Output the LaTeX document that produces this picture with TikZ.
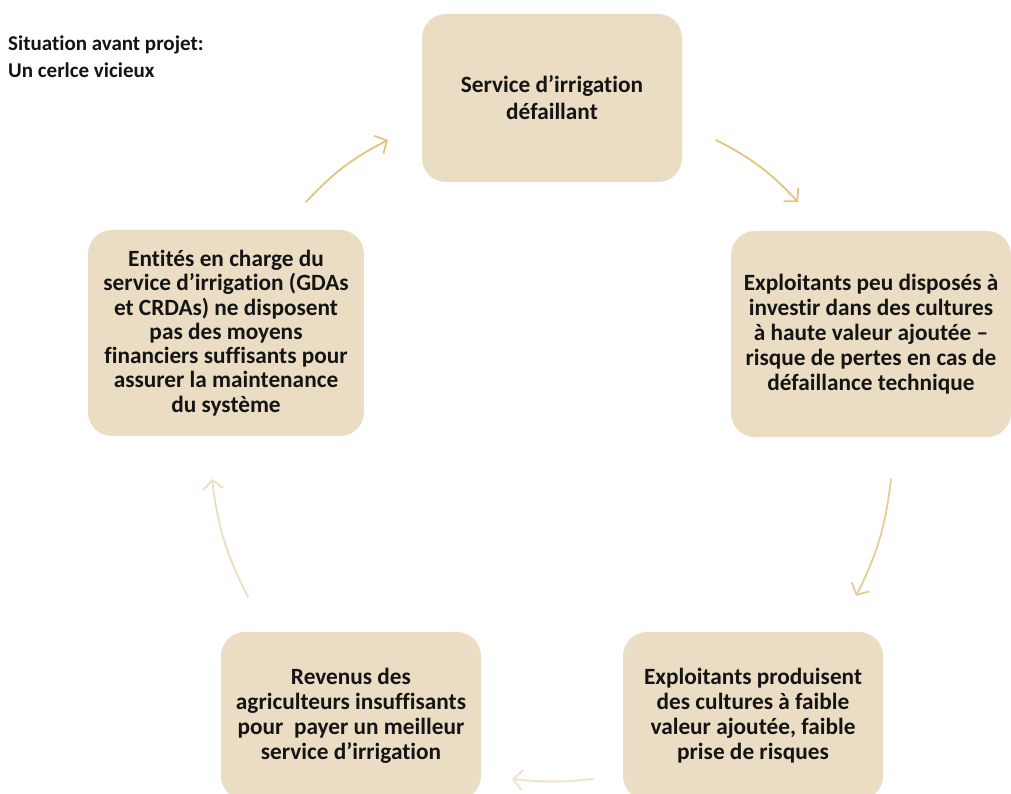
\documentclass[tikz,border=0pt]{standalone}
\usepackage{fontspec}
\setmainfont{Carlito}[Ligatures=NoCommon]
\usetikzlibrary{arrows.meta}
\definecolor{boxfill}{RGB}{234,221,196}
\definecolor{inkdark}{RGB}{20,20,20}
\definecolor{arrA}{RGB}{226,196,128}
\definecolor{arrB}{RGB}{230,205,150}
\definecolor{arrC}{RGB}{238,222,190}
\definecolor{arrD}{RGB}{240,226,198}
\tikzset{
  stepbox/.style={draw=none, fill=boxfill, rounded corners=24pt, align=center,
    text=inkdark, font=\fontsize{23.3}{25}\selectfont\bfseries, inner sep=0pt},
  cyclearrow/.style={line width=1.8pt, line cap=round,
    -{Straight Barb[length=9pt,width=20pt,line width=1.8pt]}},
}
\begin{document}
\begin{tikzpicture}[x=1pt,y=-1pt]
\useasboundingbox (0,0) rectangle (1011,794);
\clip (0,0) rectangle (1011,794);
\fill[white] (0,0) rectangle (1011,794);

% title
\node[anchor=north west, align=left, font=\fontsize{21}{27}\selectfont\bfseries, text=inkdark, inner sep=0pt]
  (title) at (8,36) {Situation avant projet:\\Un cerlce vicieux};

% the five stages of the cycle
\node[stepbox, minimum width=260pt, minimum height=168pt,
      font=\fontsize{23.3}{27}\selectfont\bfseries] (s1) at (552,98)
  {Service d’irrigation\\défaillant};
\node[stepbox, minimum width=280pt, minimum height=206pt] (s2) at (871,334)
  {Exploitants peu disposés à\\investir dans des cultures\\à haute valeur ajoutée –\\risque de pertes en cas de\\défaillance technique};
\node[stepbox, minimum width=260pt, minimum height=168pt] (s3) at (753,716)
  {Exploitants produisent\\des cultures à faible\\valeur ajoutée, faible\\prise de risques};
\node[stepbox, minimum width=260pt, minimum height=168pt] (s4) at (351,716)
  {Revenus des\\agriculteurs insuffisants\\pour \ payer un meilleur\\service d’irrigation};
\node[stepbox, minimum width=276pt, minimum height=206pt,
      font=\fontsize{23.3}{24.3}\selectfont\bfseries] (s5) at (226,333)
  {Entités en charge du\\service d’irrigation (GDAs\\et CRDAs) ne disposent\\pas des moyens\\financiers suffisants pour\\assurer la maintenance\\du système};

% arrow end points
\coordinate (a1s) at (306,202); \coordinate (a1e) at (388,140);
\coordinate (a2s) at (716,140); \coordinate (a2e) at (798,202);
\coordinate (a3s) at (891,479); \coordinate (a3e) at (856,596);
\coordinate (a4s) at (593,779); \coordinate (a4e) at (512,779);
\coordinate (a5s) at (248,597); \coordinate (a5e) at (212,479);

\draw[cyclearrow, arrA] (a1s) to[bend left=10] (a1e);
\draw[cyclearrow, arrA] (a2s) to[bend left=10] (a2e);
\draw[cyclearrow, arrB] (a3s) to[bend left=10] (a3e);
\draw[cyclearrow, arrD] (a4s) to[bend left=6] (a4e);
\draw[cyclearrow, arrC] (a5s) to[bend left=10] (a5e);
\end{tikzpicture}
\end{document}
